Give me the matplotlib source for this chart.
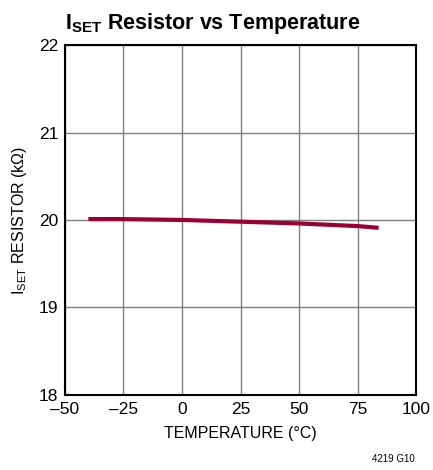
import matplotlib
matplotlib.use("Agg")
import matplotlib.pyplot as plt
from matplotlib import font_manager

fams = [f.name for f in font_manager.fontManager.ttflist]
narrow = "Liberation Sans Narrow" if "Liberation Sans Narrow" in fams else "Liberation Sans"
plt.rcParams['font.family'] = [narrow, 'DejaVu Sans']
plt.rcParams['mathtext.fontset'] = 'custom'
plt.rcParams['mathtext.rm'] = narrow
plt.rcParams['mathtext.it'] = narrow
plt.rcParams['mathtext.bf'] = narrow + ':bold'

temps = [-40, -25, 0, 25, 50, 75, 84]
resist = [20.01, 20.01, 20.0, 19.98, 19.96, 19.93, 19.91]
xticks = [-50, -25, 0, 25, 50, 75, 100]
xticklabels = ['\u201350', '\u201325', '0', '25', '50', '75', '100']
yticks = [18, 19, 20, 21, 22]

fig = plt.figure(figsize=(4.33, 4.70), dpi=100)
ax = fig.add_axes([0.150, 0.160, 0.811, 0.744])
ax.plot(temps, resist, color='#9B0034', lw=3, solid_capstyle='butt')
ax.set_xlim(-50, 100)
ax.set_ylim(18, 22)
ax.set_xticks(xticks)
ax.set_xticklabels(xticklabels)
ax.set_yticks(yticks)
ax.grid(True, color='#808080', lw=1)
ax.set_axisbelow(True)
for s in ax.spines.values():
    s.set_linewidth(1.5)
    s.set_color('black')
ax.tick_params(length=0, labelsize=12.5, pad=5)
ax.set_xlabel('TEMPERATURE (\u00b0C)', fontsize=11.5, labelpad=7)
ax.set_ylabel('I$_{\\mathrm{SET}}$ RESISTOR (k\u03a9)', fontsize=11.5, labelpad=7)
fig.text(0.150, 0.938, r'$\mathbf{I_{SET}}$ Resistor vs Temperature', fontsize=15.5,
         fontweight='bold', ha='left', va='baseline')
fig.text(0.958, 0.018, '4219 G10', fontsize=7, ha='right', va='baseline')
fig.savefig('out.png', dpi=100)
